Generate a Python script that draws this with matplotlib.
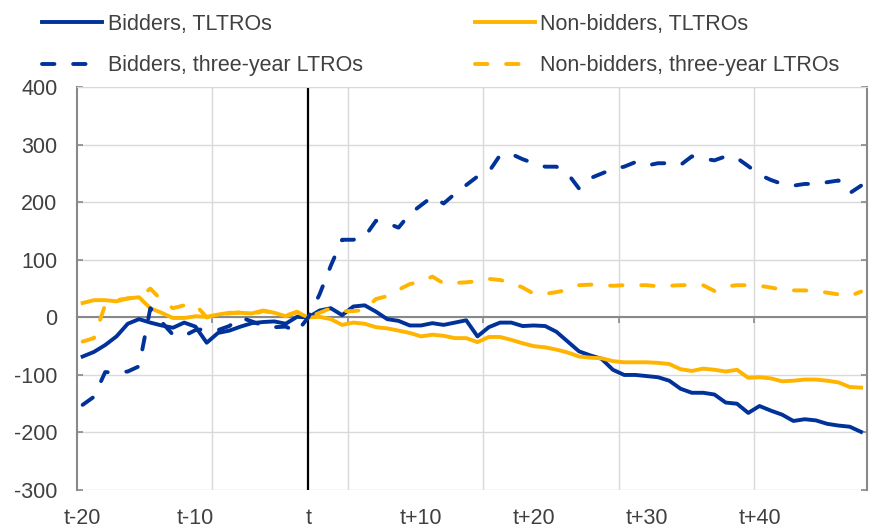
import numpy as np
import matplotlib
matplotlib.use('Agg')
import matplotlib.pyplot as plt

plt.rcParams['font.family'] = ['Liberation Sans', 'DejaVu Sans']
plt.rcParams['axes.unicode_minus'] = False

# event days relative to t
days = np.arange(-20, 50)
tick_pos = [-20, -10, 0, 10, 20, 30, 40]
tick_labels = ['t-20', 't-10', 't', 't+10', 't+20', 't+30', 't+40']

bidders_tltro = [-68, -60, -48, -33, -11, -3, -9, -14, -18, -9,
                 -16, -44, -27, -23, -16, -10, -8, -7, -11, 1,
                 0, 12, 16, 4, 19, 21, 10, -3, -6, -14,
                 -14, -10, -13, -9, -5, -33, -17, -9, -9, -15,
                 -14, -15, -25, -42, -59, -66, -72, -91, -100, -100,
                 -102, -104, -110, -124, -131, -131, -134, -148, -150, -166,
                 -154, -162, -169, -180, -177, -179, -185, -188, -190, -199]

nonbidders_tltro = [25, 30, 30, 28, 33, 35, 16, 8, -1, -1,
                    2, 1, 5, 8, 8, 7, 12, 8, 2, 9,
                    0, 1, -3, -13, -9, -11, -17, -19, -23, -27,
                    -33, -30, -32, -36, -36, -43, -34, -34, -39, -45,
                    -50, -52, -56, -61, -68, -70, -71, -76, -78, -78,
                    -78, -79, -81, -90, -93, -89, -91, -94, -91, -105,
                    -104, -106, -111, -110, -108, -108, -110, -113, -121, -122]

bidders_ltro = [-152, -138, -95, -96, -94, -85, 16, -8, -30, -32,
                -22, -20, -22, -15, 0, -7, -14, -17, -16, -25,
                0, 40, 90, 135, 135, 140, 168, 164, 156, 180,
                195, 210, 198, 215, 230, 245, 253, 282, 284, 275,
                268, 262, 262, 250, 224, 242, 250, 258, 262, 270,
                264, 268, 268, 265, 280, 276, 273, 280, 277, 263,
                248, 239, 232, 229, 232, 232, 235, 238, 216, 229]

nonbidders_ltro = [-42, -36, 22, 30, 33, 35, 50, 30, 16, 21,
                   22, 0, 4, 7, 9, 5, 11, 8, 3, 10,
                   0, 8, 16, 11, 11, 13, 32, 37, 48, 58,
                   62, 71, 59, 60, 61, 63, 67, 65, 60, 52,
                   41, 41, 44, 48, 56, 57, 56, 55, 56, 56,
                   56, 54, 55, 56, 56, 56, 46, 54, 56, 56,
                   55, 52, 48, 47, 47, 46, 43, 40, 37, 45]

blue = '#003299'
yellow = '#FFB400'
txt = '#404040'
axgrey = '#898989'

fig = plt.figure(figsize=(8.71, 5.29), dpi=100)
ax = fig.add_axes([77 / 871, 1 - 490 / 529, (866.7 - 77) / 871, (490 - 87.3) / 529])

lw = 2.8
dash = (3.2, 4.8)
ax.axvline(0, color='black', lw=1.6, zorder=1.5)
l1, = ax.plot(days, bidders_tltro, color=blue, lw=lw, solid_joinstyle='round',
              label='Bidders, TLTROs', zorder=3)
l2, = ax.plot(days, nonbidders_tltro, color=yellow, lw=lw, solid_joinstyle='round',
              label='Non-bidders, TLTROs', zorder=3)
l3, = ax.plot(days, bidders_ltro, color=blue, lw=lw, dashes=dash,
              dash_capstyle='round', label='Bidders, three-year LTROs', zorder=3)
l4, = ax.plot(days, nonbidders_ltro, color=yellow, lw=lw, dashes=dash,
              dash_capstyle='round', label='Non-bidders, three-year LTROs', zorder=3)

ax.set_xlim(-20.5, 49.5)
ax.set_ylim(-300, 400)
ax.set_yticks(range(-300, 401, 100))
ax.set_xticks(np.arange(-8.5, 49.5, 12))
ax.set_xticklabels([])

ax.grid(True, color='#d9d9d9', lw=1)
ax.set_axisbelow(True)
ax.spines['bottom'].set_position(('data', 0))
ax.spines['bottom'].set_color(axgrey)
ax.spines['bottom'].set_linewidth(1.5)
ax.spines['top'].set_color('#d9d9d9')
for s in ['left', 'right']:
    ax.spines[s].set_color(axgrey)
    ax.spines[s].set_linewidth(1.5)

ax.tick_params(axis='x', direction='out', length=4, width=1.2, color=axgrey)
ax.tick_params(axis='y', direction='in', length=4.5, width=1.2, color=axgrey,
               left=True, right=True, labelsize=15.5, labelcolor=txt, pad=14)

sec = ax.secondary_xaxis('bottom')
sec.set_xticks(tick_pos, labels=tick_labels)
sec.tick_params(length=0, pad=13, labelsize=15.5, labelcolor=txt)
sec.spines['bottom'].set_visible(False)

fig.legend(handles=[l1, l3, l2, l4], ncol=2, loc='upper left',
           bbox_to_anchor=(42 / 871, 1 - 14 / 529),
           frameon=False, fontsize=15.5, handlelength=2.8, handletextpad=0.25,
           columnspacing=5.2, labelspacing=0.95, borderpad=0, borderaxespad=0,
           labelcolor=txt)

fig.savefig('out.png', dpi=100)
